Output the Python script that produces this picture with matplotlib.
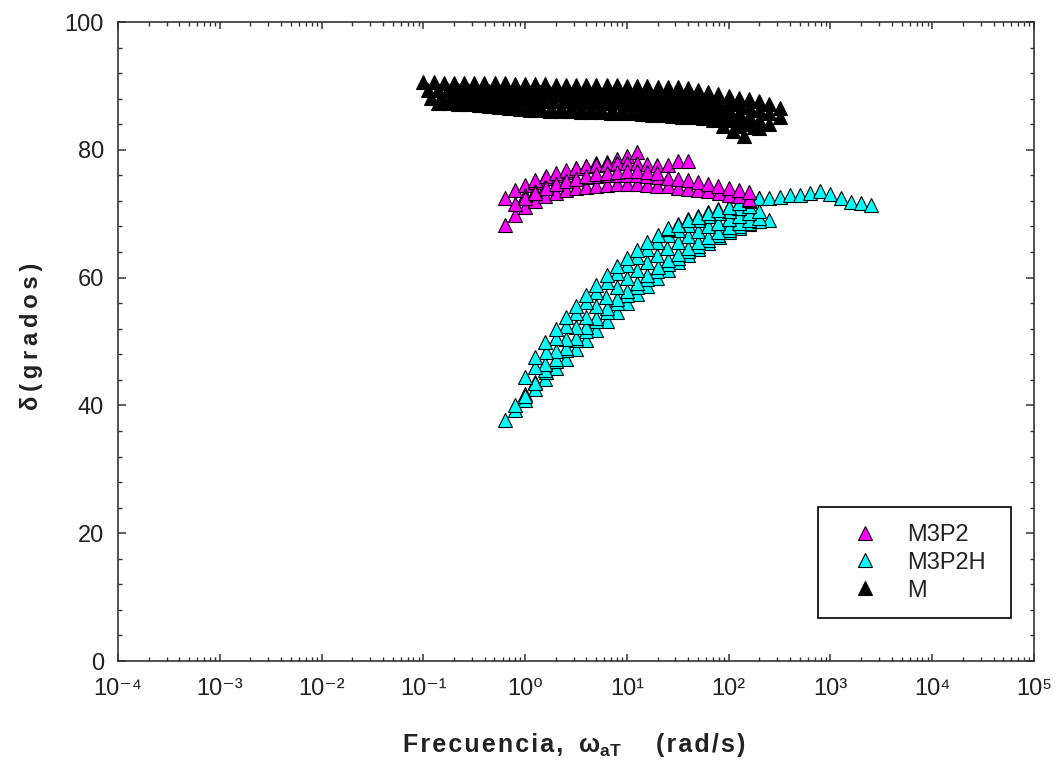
import numpy as np
import matplotlib
matplotlib.use('Agg')
import matplotlib.pyplot as plt
from matplotlib.ticker import LogLocator, MultipleLocator, FixedLocator, FixedFormatter, NullFormatter
from matplotlib.lines import Line2D

plt.rcParams['font.family'] = ['Liberation Sans', 'DejaVu Sans']
plt.rcParams['mathtext.fontset'] = 'custom'
plt.rcParams['mathtext.rm'] = 'Liberation Sans'
plt.rcParams['mathtext.it'] = 'Liberation Sans:italic'
plt.rcParams['mathtext.bf'] = 'Liberation Sans:bold'

# measured angular frequency grid (rad/s), 10 points per decade
omega = [0.1, 0.126, 0.158, 0.2, 0.251, 0.316, 0.398, 0.501, 0.631, 0.794,
         1.0, 1.26, 1.58, 2.0, 2.51, 3.16, 3.98, 5.01, 6.31, 7.94,
         10.0, 12.6, 15.8, 20.0, 25.1, 31.6, 39.8, 50.1, 63.1, 79.4,
         100.0, 126.0, 158.0, 200.0, 251.0, 316.0, 398.0, 501.0, 631.0, 794.0, 1000.0]

series_names = ['M3P2', 'M3P2H', 'M']

# M3P2: shift factors aT and phase angle (degrees)
m3p2_shift = [6.31, 6.31, 12.6, 10.0, 7.94]
m3p2_delta = [
    [68.2, 69.8, 71.0, 72.0, 72.8, 73.3, 73.7, 74.0, 74.2, 74.4, 74.5, 74.6, 74.6,
     74.6, 74.5, 74.4, 74.3, 74.1, 73.9, 73.7, 73.5, 73.3, 73.0, 72.7, 72.3],
    [72.5, 73.7, 74.5, 75.0, 75.6, 76.1, 76.5, 77.1, 77.5, 77.9, 78.1, 78.6, 79.0, 79.6],
    [75.3, 75.9, 76.4, 76.8, 77.1, 77.4, 77.6, 77.8, 77.9, 78.0, 77.9, 77.8, 77.6,
     77.7, 78.3, 78.2],
    [73.0, 73.6, 74.2, 74.7, 75.1, 75.4, 75.7, 75.9, 76.0, 76.1, 76.1, 76.0, 75.9,
     75.8, 75.6, 75.4, 75.2, 74.9, 74.6, 74.3, 74.0, 73.7, 73.4],
    [71.5, 72.5, 73.3, 74.0, 74.6, 75.1, 75.5, 75.9, 76.2, 76.4, 76.6, 76.7, 76.7,
     76.6, 76.4],
]

# M3P2H
m3p2h_shift = [6.31, 7.94, 10.0, 15.8, 12.6, 10.0, 251.0]
m3p2h_delta = [
    [37.7, 39.3, 40.8, 42.5, 44.2, 45.8, 47.3, 48.8, 50.3, 51.8, 53.2, 54.6, 56.0,
     57.4, 58.7, 60.0, 61.2, 62.4, 63.5, 64.5, 65.4, 66.3, 67.1, 67.8, 68.4, 68.8, 69.0],
    [40.0, 41.8, 43.6, 45.3, 47.0, 48.6, 50.2, 51.7, 53.2, 54.6, 56.0, 57.3, 58.6,
     59.8, 61.0, 62.1, 63.1, 64.1, 65.0, 65.9, 66.7, 67.4, 68.0, 68.5, 68.9],
    [41.5, 43.5, 45.5, 47.3, 49.0, 50.6, 52.2, 53.7, 55.2, 56.6, 57.9, 59.2, 60.4,
     61.6, 62.7, 63.7, 64.7, 65.6, 66.4, 67.2, 67.9, 68.5, 69.0, 69.4],
    [46.5, 48.5, 50.4, 52.2, 53.9, 55.5, 57.0, 58.5, 59.9, 61.2, 62.4, 63.5, 64.6,
     65.6, 66.5, 67.3, 68.0, 68.6, 69.2, 69.7, 70.1, 70.5],
    [46.0, 48.3, 50.5, 52.5, 54.4, 56.2, 57.8, 59.3, 60.7, 62.0, 63.3, 64.5, 65.6,
     66.6, 67.5, 68.3, 69.0, 69.6, 70.1, 70.5, 70.9, 71.2],
    [44.4, 47.5, 50.0, 52.0, 53.8, 55.6, 57.3, 58.9, 60.4, 61.8, 63.0, 64.3, 65.5,
     66.6, 67.6, 68.4, 69.1, 69.7, 70.2, 70.7, 71.1, 71.6, 72.0, 72.4],
    [67.8, 68.3, 69.0, 69.5, 70.1, 70.6, 71.0, 71.6, 72.1, 72.5, 72.5, 72.6, 72.9,
     72.9, 73.2, 73.6, 73.1, 72.5, 71.9, 71.7, 71.4],
]

# M
m_shift = [1.4, 1.78, 1.2, 2.0, 2.5, 1.1, 3.16, 1.0]
m_delta = [
    [87.4, 87.3, 87.2, 87.1, 87.0, 86.8, 86.7, 86.5, 86.4, 86.3, 86.2,
     86.1, 86.0, 86.0, 85.9, 85.9, 85.9, 85.8, 85.8, 85.7, 85.6,
     85.5, 85.4, 85.3, 85.2, 85.1, 85.0, 84.6, 83.8, 82.9, 82.1],
    [87.6, 87.5, 87.4, 87.3, 87.2, 87.1, 87.0, 86.9, 86.8, 86.7, 86.6,
     86.6, 86.5, 86.5, 86.4, 86.4, 86.3, 86.3, 86.2, 86.2, 86.1,
     86.0, 85.9, 85.8, 85.7, 85.5, 85.3, 85.0, 84.6, 84.1, 83.5],
    [88.1, 88.1, 88.0, 88.0, 88.0, 87.9, 87.9, 87.9, 87.8, 87.8, 87.7,
     87.7, 87.6, 87.6, 87.5, 87.5, 87.4, 87.3, 87.3, 87.2, 87.1,
     87.0, 86.9, 86.8, 86.6, 86.4, 86.1, 85.8, 85.3, 84.6, 83.8],
    [89.0, 89.0, 88.9, 88.9, 88.8, 88.8, 88.7, 88.7, 88.6, 88.6, 88.5,
     88.5, 88.4, 88.4, 88.3, 88.2, 88.2, 88.1, 88.0, 87.9, 87.8,
     87.7, 87.6, 87.4, 87.2, 86.9, 86.5, 86.0, 85.3, 84.4, 83.4],
    [88.9, 88.9, 88.8, 88.8, 88.7, 88.7, 88.6, 88.6, 88.5, 88.5, 88.4,
     88.4, 88.3, 88.2, 88.2, 88.1, 88.0, 87.9, 87.8, 87.7, 87.6,
     87.4, 87.2, 87.0, 86.8, 86.5, 86.2, 85.8, 85.3, 84.7, 84.0],
    [89.4, 89.4, 89.3, 89.3, 89.3, 89.2, 89.2, 89.2, 89.1, 89.1, 89.0,
     89.0, 88.9, 88.9, 88.8, 88.8, 88.7, 88.6, 88.6, 88.5, 88.4,
     88.3, 88.2, 88.0, 87.8, 87.6, 87.3, 86.9, 86.4, 85.8, 85.0],
    [89.8, 89.8, 89.7, 89.7, 89.7, 89.6, 89.6, 89.6, 89.5, 89.5, 89.5,
     89.4, 89.4, 89.3, 89.3, 89.2, 89.1, 89.1, 89.0, 88.9, 88.8,
     88.6, 88.4, 88.1, 87.8, 87.5, 87.1, 86.7, 86.2, 85.7, 85.1],
    [90.6, 90.6, 90.5, 90.5, 90.5, 90.4, 90.4, 90.4, 90.4, 90.3, 90.3,
     90.3, 90.3, 90.2, 90.2, 90.2, 90.2, 90.1, 90.1, 90.1, 90.0,
     90.0, 90.0, 89.9, 89.9, 89.8, 89.6, 89.3, 89.0, 88.7, 88.4,
     88.1, 87.9, 87.6, 87.2, 86.6],
]

x_ticks = [1e-4, 1e-3, 1e-2, 1e-1, 1e0, 1e1, 1e2, 1e3, 1e4, 1e5]
x_ticklabels = ['10⁻⁴', '10⁻³', '10⁻²', '10⁻¹', '10⁰', '10¹', '10²', '10³', '10⁴', '10⁵']
y_ticks = [0, 20, 40, 60, 80, 100]

colors = {'M3P2': '#FF00FF', 'M3P2H': '#00FFFF', 'M': '#000000'}
data = {'M3P2': (m3p2_shift, m3p2_delta),
        'M3P2H': (m3p2h_shift, m3p2h_delta),
        'M': (m_shift, m_delta)}
zorders = {'M3P2H': 3, 'M3P2': 4, 'M': 5}

fig = plt.figure(figsize=(10.57, 7.67), dpi=100)
ax = fig.add_axes([0.1116, 0.1382, 0.8667, 0.8331])

ms = 9.5
for name in ['M3P2H', 'M3P2', 'M']:
    shifts, deltas = data[name]
    for aT, d in zip(shifts, deltas):
        xs = np.array(omega[:len(d)]) * aT
        ax.plot(xs, d, linestyle='none', marker='^', ms=ms,
                mfc=colors[name], mec='black', mew=0.8, zorder=zorders[name])

ax.set_xscale('log')
ax.set_xlim(x_ticks[0], x_ticks[-1])
ax.set_ylim(y_ticks[0], y_ticks[-1])
ax.xaxis.set_major_locator(FixedLocator(x_ticks))
ax.xaxis.set_major_formatter(FixedFormatter(x_ticklabels))
ax.xaxis.set_minor_locator(LogLocator(base=10, subs=np.arange(2, 10), numticks=100))
ax.xaxis.set_minor_formatter(NullFormatter())
ax.set_yticks(y_ticks)
ax.yaxis.set_minor_locator(MultipleLocator(4))

spine_col = '#333333'
for s in ax.spines.values():
    s.set_linewidth(1.2)
    s.set_color(spine_col)
ax.tick_params(which='both', direction='in', top=True, right=True,
               color=spine_col, labelcolor='#222222', labelsize=17)
ax.tick_params(which='major', length=6, width=1.1)
ax.tick_params(which='minor', length=3, width=1.0)
ax.tick_params(axis='x', which='major', length=5, pad=12)
ax.tick_params(axis='y', which='major', pad=10)


def spaced(s, sep='\u200a'):
    return sep.join(s)


ylab = 0.019
fig.text(403 / 1057, ylab, spaced('Frecuencia,'), ha='left', va='baseline',
         fontsize=18, fontweight='bold', color='#222222')
fig.text(578 / 1057, ylab, r'$\mathbf{\omega_{aT}}$', ha='left', va='baseline',
         fontsize=18, fontweight='bold', color='#222222')
fig.text(745 / 1057, ylab, spaced('(rad/s)'), ha='right', va='baseline',
         fontsize=18, fontweight='bold', color='#222222')
fig.text(0.030, 0.561, spaced('δ(grados)', '\u2009'), ha='center', va='center',
         rotation=90, fontsize=17, fontweight='bold', color='#222222')

handles = [Line2D([], [], linestyle='none', marker='^', ms=ms,
                  mfc=colors[n], mec='black', mew=0.8) for n in series_names]
leg = ax.legend(handles, series_names, loc='lower left',
                bbox_to_anchor=(0.764, 0.067, 0.211, 0.201), mode='expand',
                fontsize=17, frameon=True, fancybox=False, framealpha=1,
                edgecolor='black', borderpad=0.7, labelspacing=0.25,
                handlelength=2.6, handletextpad=0.5, borderaxespad=0)
leg.get_frame().set_linewidth(1.2)
for t in leg.get_texts():
    t.set_color('#222222')

fig.savefig('out.png', dpi=100)
